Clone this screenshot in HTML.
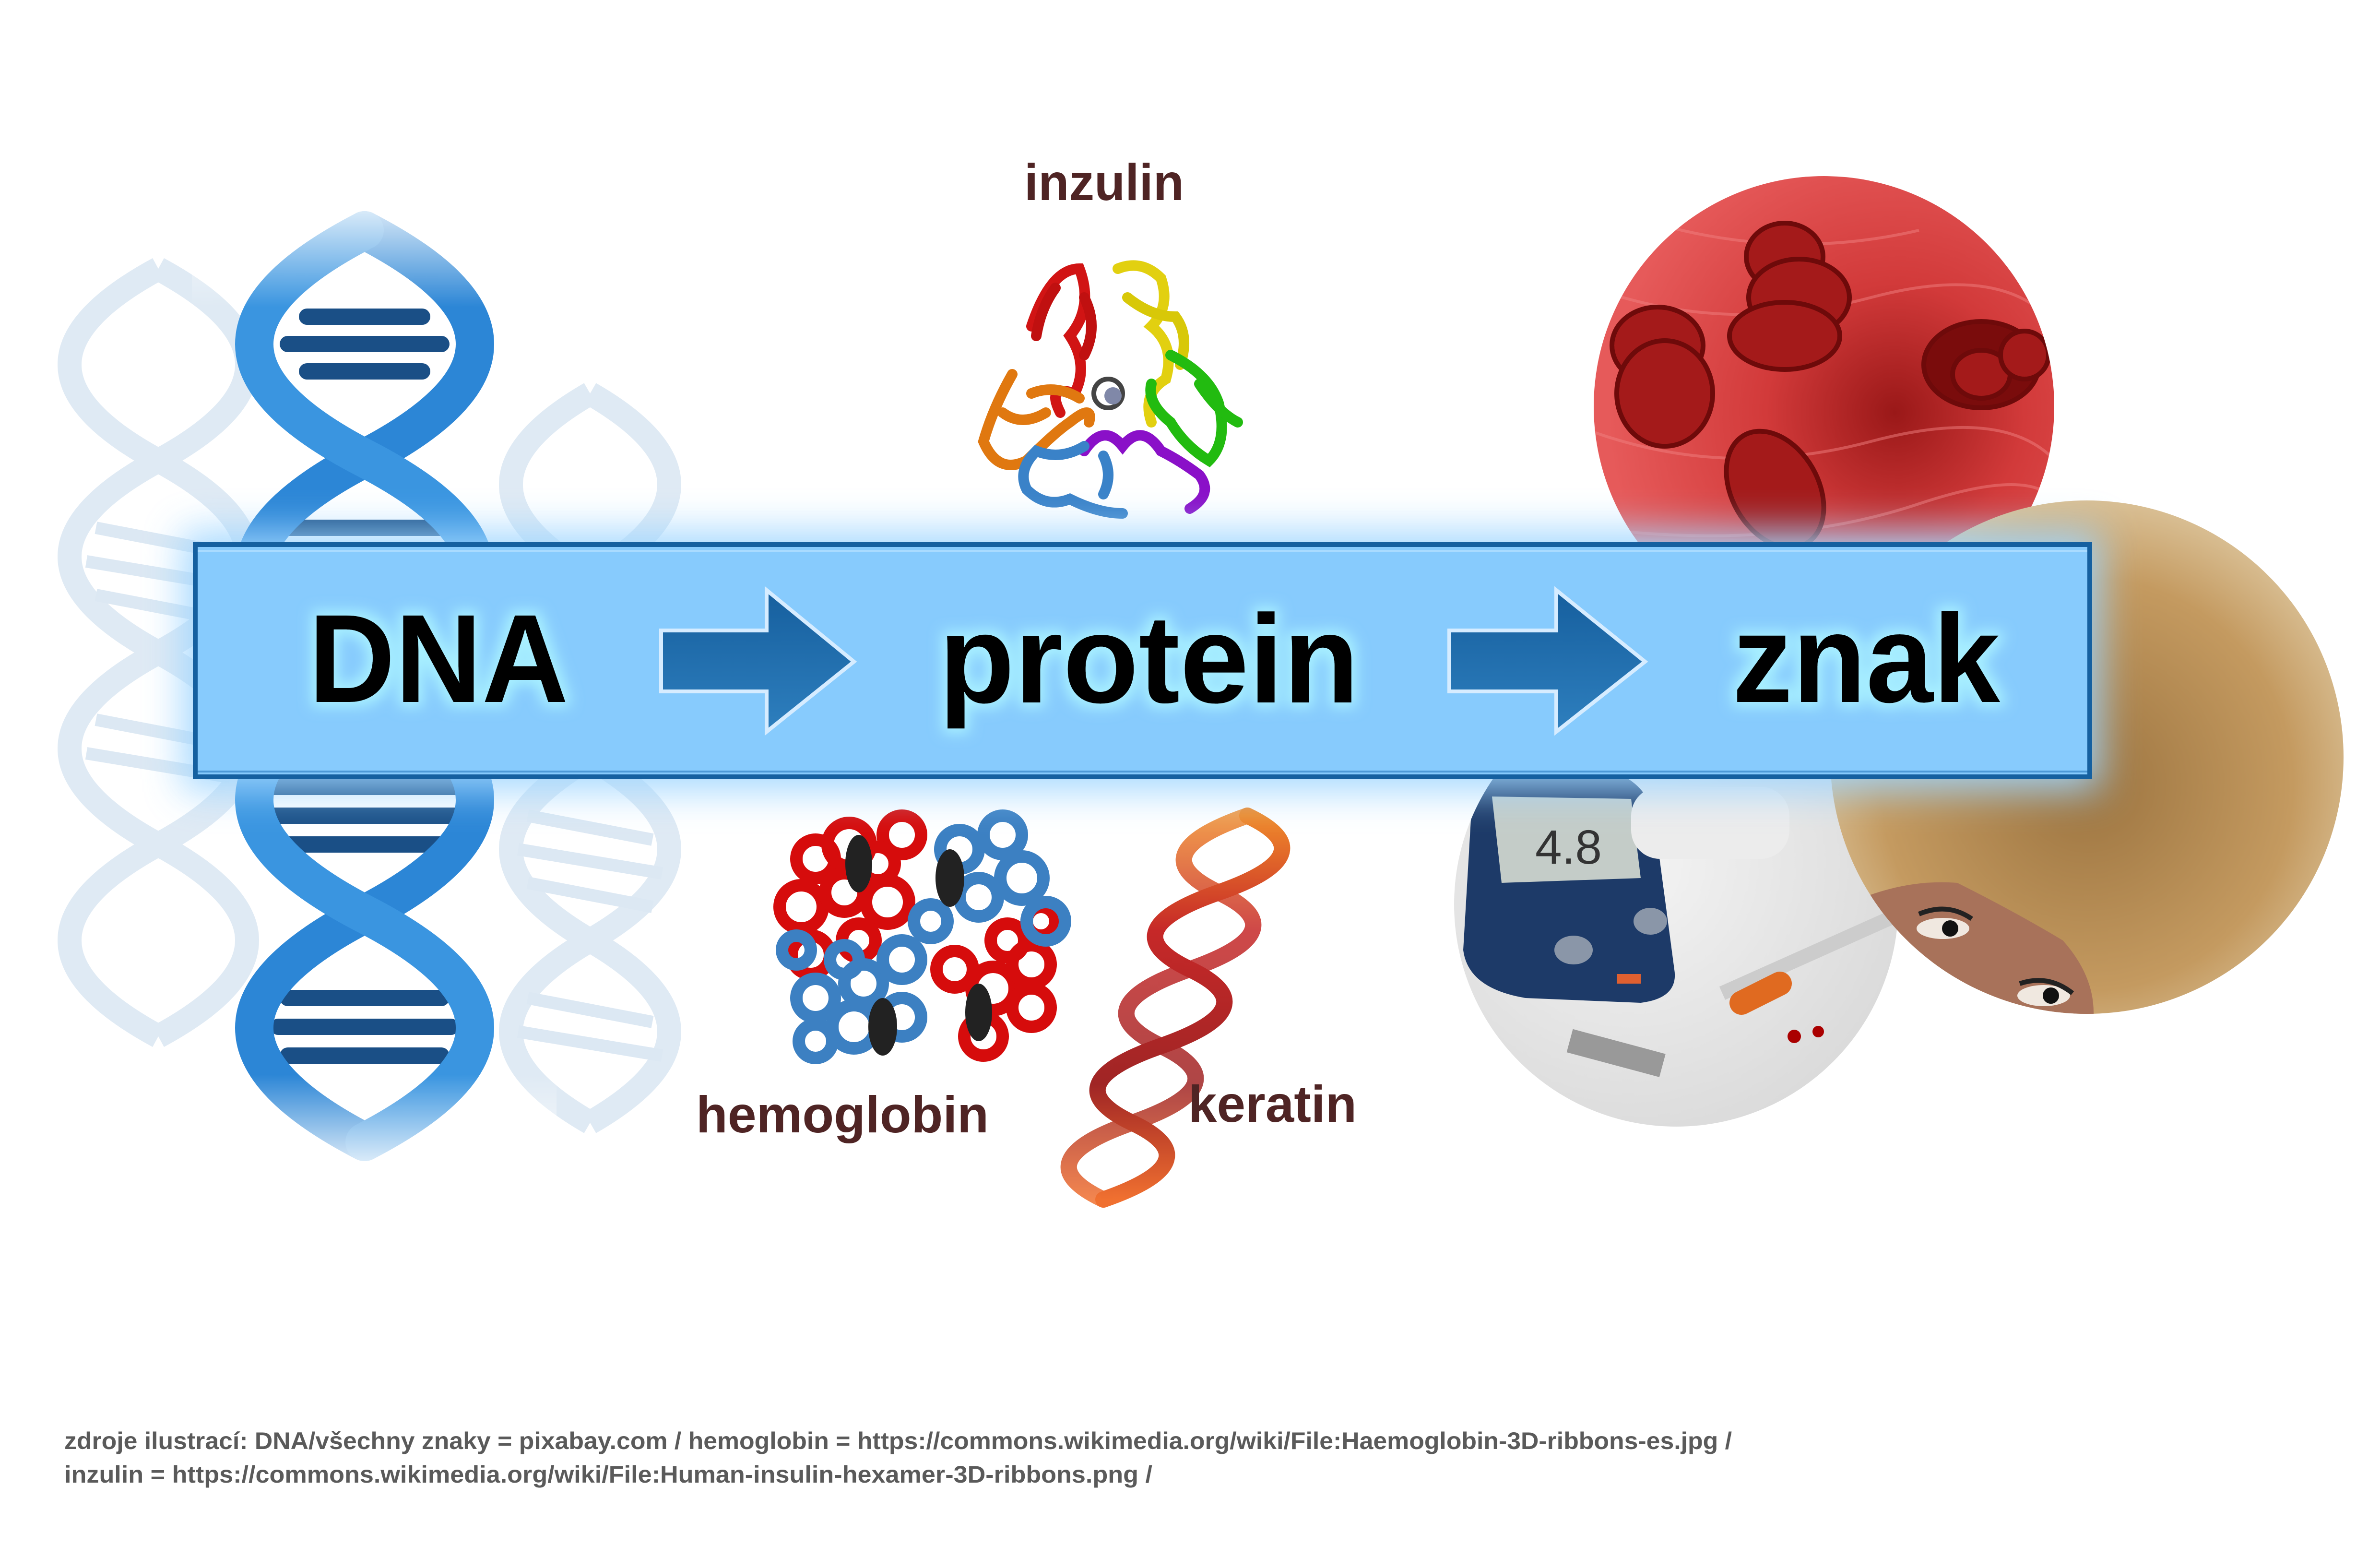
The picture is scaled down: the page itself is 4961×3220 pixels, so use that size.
<!DOCTYPE html>
<html><head><meta charset="utf-8"><style>html,body{margin:0;padding:0;background:#fff}svg{display:block}</style></head>
<body>
<svg width="4961" height="3220" viewBox="0 0 4961 3220" xmlns="http://www.w3.org/2000/svg">
<defs>
<filter id="blur40" x="-20%" y="-50%" width="140%" height="200%"><feGaussianBlur stdDeviation="40"/></filter>
<filter id="tglow" x="-20%" y="-40%" width="140%" height="180%"><feMorphology operator="dilate" radius="10" in="SourceAlpha" result="d"/><feGaussianBlur in="d" stdDeviation="14" result="b"/><feFlood flood-color="#a8f0ff"/><feComposite in2="b" operator="in" result="g"/><feMerge><feMergeNode in="g"/><feMergeNode in="SourceGraphic"/></feMerge></filter>
<radialGradient id="red" cx="0.65" cy="0.5" r="0.6"><stop offset="0" stop-color="#9a1818"/><stop offset="0.45" stop-color="#d23a3a"/><stop offset="1" stop-color="#e65a5a"/></radialGradient>
<linearGradient id="redfade" x1="0" y1="0" x2="0" y2="1"><stop offset="0.75" stop-color="#fff" stop-opacity="0"/><stop offset="1" stop-color="#fff" stop-opacity="0.9"/></linearGradient>
<radialGradient id="hair" cx="0.5" cy="0.55" r="0.6"><stop offset="0" stop-color="#9c7440"/><stop offset="0.65" stop-color="#c49a60"/><stop offset="0.9" stop-color="#d9bf94"/><stop offset="1" stop-color="#f2ece4"/></radialGradient>
<radialGradient id="gl" cx="0.4" cy="0.4" r="0.7"><stop offset="0" stop-color="#f4f4f4"/><stop offset="1" stop-color="#d6d6d6"/></radialGradient>
<linearGradient id="arr" x1="0" y1="0" x2="0" y2="1"><stop offset="0" stop-color="#165f9e"/><stop offset="1" stop-color="#2e7fbe"/></linearGradient>
<linearGradient id="ker" x1="0" y1="0" x2="0" y2="1"><stop offset="0" stop-color="#f08a2a"/><stop offset="0.3" stop-color="#c62828"/><stop offset="0.7" stop-color="#a02525"/><stop offset="1" stop-color="#f07030"/></linearGradient>
<linearGradient id="dnaf" x1="0" y1="0" x2="0" y2="1"><stop offset="0" stop-color="#fff" stop-opacity="0.8"/><stop offset="0.1" stop-color="#fff" stop-opacity="0"/><stop offset="0.9" stop-color="#fff" stop-opacity="0"/><stop offset="1" stop-color="#fff" stop-opacity="0.9"/></linearGradient>
<clipPath id="c1"><circle cx="3802" cy="847" r="480"/></clipPath>
<clipPath id="c2"><circle cx="4350" cy="1578" r="535"/></clipPath>
<clipPath id="c3"><circle cx="3494" cy="1885" r="463"/></clipPath>
</defs>

<g fill="none" stroke="#dce8f3" stroke-width="50" opacity="0.9">
<path d="M330 560 Q700 760 330 960 Q-40 1160 330 1360 Q700 1560 330 1760 Q-40 1960 330 2160"/>
<path d="M330 560 Q-40 760 330 960 Q700 1160 330 1360 Q-40 1560 330 1760 Q700 1960 330 2160"/>
<path d="M1230 820 Q1560 1010 1230 1200 Q900 1390 1230 1580 Q1560 1770 1230 1960 Q900 2150 1230 2340"/>
<path d="M1230 820 Q900 1010 1230 1200 Q1560 1390 1230 1580 Q900 1770 1230 1960 Q1560 2150 1230 2340"/>
</g>
<g stroke="#dce8f3" stroke-width="26">
<line x1="200" y1="1100" x2="460" y2="1150"/><line x1="180" y1="1170" x2="480" y2="1220"/><line x1="200" y1="1240" x2="460" y2="1290"/>
<line x1="200" y1="1500" x2="460" y2="1550"/><line x1="180" y1="1570" x2="480" y2="1620"/>
<line x1="1100" y1="1700" x2="1360" y2="1750"/><line x1="1080" y1="1770" x2="1380" y2="1820"/><line x1="1100" y1="1840" x2="1360" y2="1890"/>
<line x1="1100" y1="2080" x2="1360" y2="2130"/><line x1="1080" y1="2150" x2="1380" y2="2200"/>
</g>
<g stroke="#1a4f86" stroke-width="34" stroke-linecap="round">
<line x1="640" y1="660" x2="880" y2="660"/><line x1="600" y1="717" x2="920" y2="717"/><line x1="640" y1="774" x2="880" y2="774"/>
<line x1="590" y1="1100" x2="930" y2="1100"/><line x1="560" y1="1160" x2="960" y2="1160"/><line x1="560" y1="1220" x2="960" y2="1220"/><line x1="590" y1="1280" x2="930" y2="1280"/>
<line x1="590" y1="1580" x2="930" y2="1580"/><line x1="560" y1="1640" x2="960" y2="1640"/><line x1="560" y1="1700" x2="960" y2="1700"/><line x1="590" y1="1760" x2="930" y2="1760"/>
<line x1="600" y1="2080" x2="920" y2="2080"/><line x1="580" y1="2140" x2="940" y2="2140"/><line x1="600" y1="2200" x2="920" y2="2200"/>
</g>
<g fill="none" stroke="#2c86d6" stroke-width="80" stroke-linecap="round">
<path d="M760 480 Q1220 717 760 955 Q300 1192 760 1430 Q1220 1667 760 1905 Q300 2142 760 2380"/>
<path d="M760 480 Q300 717 760 955 Q1220 1192 760 1430 Q300 1667 760 1905 Q1220 2142 760 2380" stroke="#3a95e0"/>
</g>
<rect x="400" y="440" width="760" height="2000" fill="url(#dnaf)"/>

<g clip-path="url(#c1)">
<rect x="3300" y="360" width="1000" height="1000" fill="url(#red)"/>
<g fill="none" stroke="#f08080" stroke-width="6" opacity="0.5">
<path d="M3320 600 Q3600 700 3900 620 T4300 700"/><path d="M3320 900 Q3600 1000 3900 920 T4300 980"/><path d="M3320 1100 Q3700 1150 4000 1050 T4300 1100"/><path d="M3400 450 Q3700 550 4000 480"/>
</g>
<g fill="#a41a1a" stroke="#6e0a0a" stroke-width="10">
<ellipse cx="3720" cy="535" rx="80" ry="70"/><ellipse cx="3750" cy="620" rx="105" ry="80"/>
<ellipse cx="3720" cy="700" rx="115" ry="70"/>
<ellipse cx="3455" cy="720" rx="95" ry="80"/><ellipse cx="3470" cy="820" rx="100" ry="110"/>
<ellipse cx="3700" cy="1020" rx="90" ry="130" transform="rotate(-30 3700 1020)"/>
<ellipse cx="4130" cy="760" rx="120" ry="90" fill="#7a0c0c"/><ellipse cx="4130" cy="780" rx="60" ry="50"/><ellipse cx="4220" cy="740" rx="50" ry="50"/>
</g>
<rect x="3300" y="360" width="1000" height="1000" fill="url(#redfade)"/>
</g>
<g clip-path="url(#c3)">
<rect x="3000" y="1400" width="1000" height="1000" fill="url(#gl)"/>
<path d="M3070 1640 Q3150 1580 3330 1600 Q3440 1620 3450 1720 L3490 2020 Q3500 2080 3420 2090 L3180 2080 Q3060 2060 3050 1980 Z" fill="#1d3a68"/>
<path d="M3110 1660 L3400 1665 L3420 1830 L3130 1840 Z" fill="#c4ccc8"/>
<text x="3200" y="1800" font-family="Liberation Sans" font-size="100" fill="#333">4.8</text>
<ellipse cx="3280" cy="1980" rx="40" ry="30" fill="#8a96a8"/><ellipse cx="3440" cy="1920" rx="35" ry="28" fill="#8a96a8"/>
<rect x="3370" y="2030" width="50" height="20" fill="#e06030"/>
<rect x="3400" y="1640" width="330" height="150" rx="60" fill="#ececec"/>
<path d="M3590 2070 L3970 1900" stroke="#ccc" stroke-width="30"/>
<path d="M3630 2090 L3710 2050" stroke="#e06a20" stroke-width="50" stroke-linecap="round"/>
<rect x="3270" y="2170" width="200" height="50" fill="#999" transform="rotate(15 3370 2190)"/>
<circle cx="3740" cy="2160" r="14" fill="#a00"/><circle cx="3790" cy="2150" r="12" fill="#a00"/>
</g>
<g clip-path="url(#c2)">
<rect x="3800" y="1030" width="1100" height="1100" fill="url(#hair)"/>
<rect x="3800" y="1030" width="1100" height="1100" fill="none" stroke="#7a5428" stroke-width="8" stroke-dasharray="12 26" opacity="0.35"/>
<path d="M3820 1900 Q3950 1830 4080 1840 Q4200 1900 4300 1960 Q4380 2050 4360 2150 L3820 2150 Z" fill="#a8725a"/>
<ellipse cx="4050" cy="1935" rx="55" ry="22" fill="#f0e8e0"/><circle cx="4065" cy="1935" r="17" fill="#111"/>
<ellipse cx="4260" cy="2075" rx="55" ry="22" fill="#f0e8e0"/><circle cx="4275" cy="2075" r="17" fill="#111"/>
<path d="M4000 1905 Q4060 1880 4110 1915" stroke="#222" stroke-width="10" fill="none"/>
<path d="M4210 2050 Q4270 2030 4320 2070" stroke="#222" stroke-width="10" fill="none"/>
</g>

<g fill="none" stroke-width="22" stroke-linecap="round">
<path d="M2150 680 Q2190 560 2250 560 Q2280 640 2230 700 Q2270 760 2240 820 Q2180 800 2210 860" stroke="#d11414"/>
<path d="M2200 600 Q2170 640 2160 700 M2260 620 Q2290 680 2260 740" stroke="#c01010"/>
<path d="M2110 780 Q2070 850 2050 920 Q2080 990 2140 960 Q2200 900 2230 880 Q2280 840 2270 880" stroke="#e07810"/>
<path d="M2090 860 Q2130 890 2180 860 M2150 820 Q2200 800 2250 830" stroke="#e07810"/>
<path d="M2330 560 Q2380 540 2420 580 Q2440 640 2400 680 Q2450 720 2430 790 Q2380 820 2400 880" stroke="#e2d010"/>
<path d="M2350 620 Q2400 660 2450 660 Q2480 700 2460 760" stroke="#d8c808"/>
<path d="M2440 740 Q2520 780 2540 840 Q2560 920 2520 960 Q2470 930 2440 880 Q2390 840 2400 800" stroke="#22bb10"/>
<path d="M2500 800 Q2540 860 2580 880" stroke="#22bb10"/>
<path d="M2260 940 Q2300 880 2340 930 Q2380 880 2420 940 Q2460 960 2500 990 Q2530 1030 2480 1060" stroke="#8a10c8"/>
<path d="M2260 930 Q2210 960 2160 940 Q2120 980 2140 1020 Q2180 1060 2230 1040 Q2290 1070 2340 1070 M2300 1030 Q2320 990 2300 950" stroke="#3a82c8"/>
<circle cx="2310" cy="820" r="30" stroke="#444" stroke-width="10"/>
<circle cx="2320" cy="825" r="18" fill="#8088a8" stroke="none"/>
</g>

<g fill="none" stroke-width="26">
<g stroke="#d60c0c">
<circle cx="1700" cy="1790" r="40"/><circle cx="1770" cy="1760" r="45"/><circle cx="1880" cy="1740" r="40"/><circle cx="1670" cy="1890" r="45"/>
<circle cx="1760" cy="1860" r="40"/><circle cx="1850" cy="1880" r="45"/><circle cx="1690" cy="1990" r="40"/><circle cx="1790" cy="1960" r="35"/>
<circle cx="2070" cy="2060" r="45"/><circle cx="2150" cy="2100" r="40"/><circle cx="2050" cy="2160" r="40"/><circle cx="2150" cy="2010" r="40"/>
<circle cx="1990" cy="2020" r="38"/><circle cx="2170" cy="1920" r="30"/><circle cx="1830" cy="1800" r="35"/><circle cx="2100" cy="1960" r="35"/>
</g>
<g stroke="#3c80c2">
<circle cx="2000" cy="1770" r="40"/><circle cx="2090" cy="1740" r="40"/><circle cx="2130" cy="1830" r="45"/><circle cx="2040" cy="1870" r="40"/>
<circle cx="2180" cy="1920" r="40"/><circle cx="1700" cy="2080" r="40"/><circle cx="1780" cy="2140" r="45"/><circle cx="1700" cy="2170" r="35"/>
<circle cx="1800" cy="2050" r="40"/><circle cx="1880" cy="2000" r="40"/><circle cx="1880" cy="2120" r="40"/><circle cx="1660" cy="1980" r="30"/>
<circle cx="1940" cy="1920" r="35"/><circle cx="1760" cy="2000" r="30"/>
</g>
</g>
<g fill="#222"><ellipse cx="1790" cy="1800" rx="28" ry="60"/><ellipse cx="1980" cy="1830" rx="30" ry="60"/><ellipse cx="1840" cy="2140" rx="30" ry="60"/><ellipse cx="2040" cy="2110" rx="28" ry="60"/></g>

<g fill="none" stroke="url(#ker)" stroke-width="34" stroke-linecap="round">
<path d="M2600 1700 Q2770 1780 2540 1860 Q2310 1940 2480 2020 Q2650 2100 2420 2180 Q2190 2260 2360 2340 Q2530 2420 2300 2500"/>
<path d="M2600 1700 Q2370 1780 2540 1860 Q2710 1940 2480 2020 Q2250 2100 2420 2180 Q2590 2260 2360 2340 Q2130 2420 2300 2500" opacity="0.85"/>
</g>

<rect x="380" y="1105" width="4000" height="545" fill="#9fd6ff" filter="url(#blur40)" opacity="0.9"/>
<rect x="407" y="1135" width="3949" height="484" fill="#87cbfd" stroke="#1560a0" stroke-width="10"/>
<line x1="412" y1="1148" x2="4351" y2="1148" stroke="#a9dbff" stroke-width="4"/>
<line x1="412" y1="1608" x2="4351" y2="1608" stroke="#4c98d6" stroke-width="4"/>

<polygon points="1378,1314 1598,1314 1598,1230 1780,1379 1598,1525 1598,1441 1378,1441" fill="url(#arr)" stroke="#d6ecff" stroke-width="8"/>
<polygon points="3021,1314 3244,1314 3244,1230 3429,1379 3244,1525 3244,1441 3021,1441" fill="url(#arr)" stroke="#d6ecff" stroke-width="8"/>

<g font-family="Liberation Sans, sans-serif" font-weight="bold" font-size="262" fill="#000" filter="url(#tglow)">
<text x="643" y="1463" textLength="542" lengthAdjust="spacingAndGlyphs">DNA</text>
<text x="1957" y="1464" textLength="876" lengthAdjust="spacingAndGlyphs">protein</text>
<text x="3611" y="1463" textLength="558" lengthAdjust="spacingAndGlyphs">znak</text>
</g>

<g font-family="Liberation Sans, sans-serif" font-weight="bold" font-size="108" fill="#4f2424">
<text x="2135" y="417" textLength="333" lengthAdjust="spacingAndGlyphs">inzulin</text>
<text x="1451" y="2360" textLength="610" lengthAdjust="spacingAndGlyphs">hemoglobin</text>
<text x="2477" y="2338" textLength="351" lengthAdjust="spacingAndGlyphs">keratin</text>
</g>

<g font-family="Liberation Sans, sans-serif" font-weight="bold" font-size="50" fill="#5a5a5a">
<text x="134" y="3020" textLength="3476" lengthAdjust="spacingAndGlyphs">zdroje ilustrací: DNA/všechny znaky = pixabay.com / hemoglobin = https://commons.wikimedia.org/wiki/File:Haemoglobin-3D-ribbons-es.jpg /</text>
<text x="134" y="3090" textLength="2268" lengthAdjust="spacingAndGlyphs">inzulin = https://commons.wikimedia.org/wiki/File:Human-insulin-hexamer-3D-ribbons.png /</text>
</g>
</svg>
</body></html>
